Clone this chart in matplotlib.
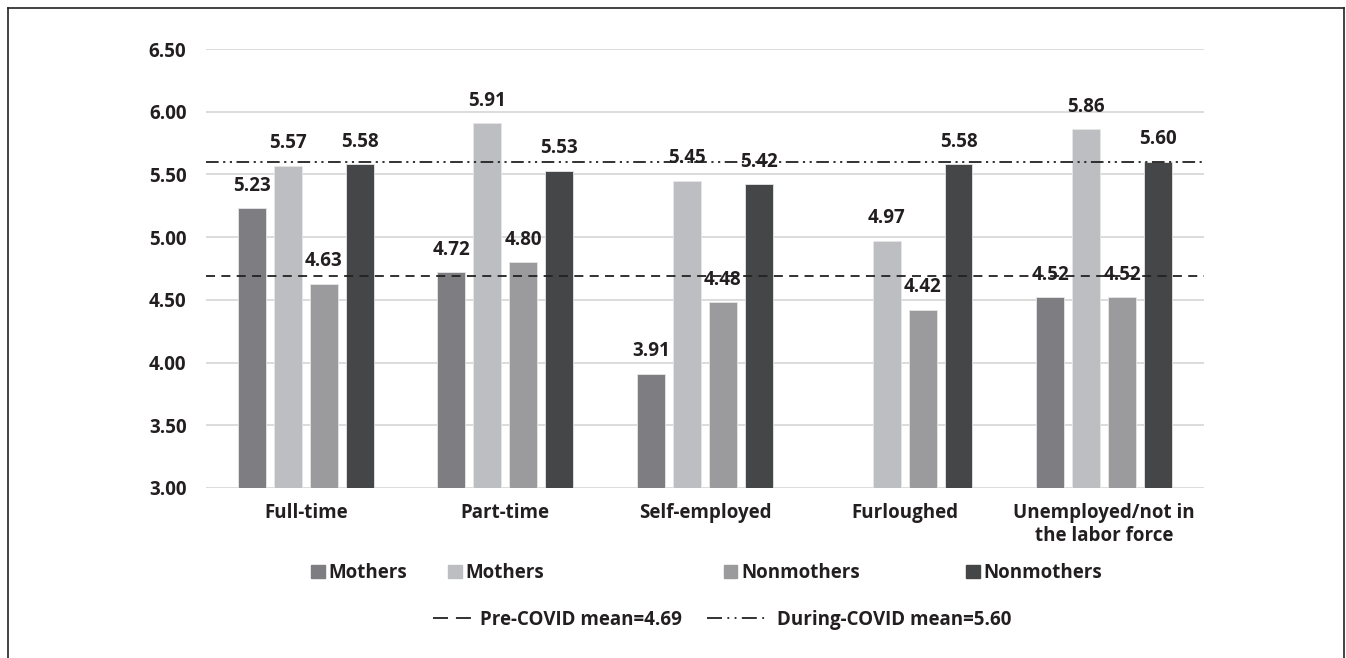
import matplotlib.pyplot as plt
import numpy as np
from matplotlib.lines import Line2D
from matplotlib.patches import Patch

# data
categories = ["Full-time", "Part-time", "Self-employed", "Furloughed",
              "Unemployed/not in\nthe labor force"]
series_names = ["Mothers", "Mothers", "Nonmothers", "Nonmothers"]
mothers_pre = [5.23, 4.72, 3.91, np.nan, 4.52]
mothers_during = [5.57, 5.91, 5.45, 4.97, 5.86]
nonmothers_pre = [4.63, 4.80, 4.48, 4.42, 4.52]
nonmothers_during = [5.58, 5.53, 5.42, 5.58, 5.60]
pre_mean = 4.69
during_mean = 5.60
yticks = [3.00, 3.50, 4.00, 4.50, 5.00, 5.50, 6.00, 6.50]

colors = ["#7e7e82", "#bdbec1", "#9b9b9e", "#454648"]
txt = "#231f20"
fs = 13.5
plt.rcParams['font.family'] = ['Open Sans', 'DejaVu Sans']
plt.rcParams['font.weight'] = 'bold'

fig = plt.figure(figsize=(13.46, 6.58), dpi=100)
ax = fig.add_axes([0.153, 0.2584, 0.7415, 0.6671])

x = np.arange(len(categories))
all_series = [mothers_pre, mothers_during, nonmothers_pre, nonmothers_during]
w = 0.14
step = 0.18
for i, vals in enumerate(all_series):
    pos = x + (i - 1.5) * step
    bars = ax.bar(pos, np.array(vals) - 3.0, bottom=3.0, width=w,
                  color=colors[i], edgecolor="#e6e6e6", linewidth=0.6, zorder=3)
    labels = ["" if np.isnan(v) else f"{v:.2f}" for v in vals]
    ax.bar_label(bars, labels=labels, padding=9, fontsize=fs,
                 fontweight='bold', color=txt)

dash_pre = (5, 3.5)
dash_during = (7, 2.5, 1.2, 2.5, 1.2, 2.5)
ax.axhline(pre_mean, color="#222222", lw=1.3, dashes=dash_pre, zorder=4)
ax.axhline(during_mean, color="#222222", lw=1.3, dashes=dash_during, zorder=4)

ax.set_xlim(-0.5, len(categories) - 0.5)
ax.set_ylim(3.0, 6.5)
ax.set_yticks(yticks)
ax.set_yticklabels([f"{t:.2f}" for t in yticks], fontsize=fs,
                   fontweight='bold', color=txt)
ax.set_xticks(x)
ax.set_xticklabels(categories, fontsize=fs, fontweight='bold', color=txt,
                   linespacing=1.15, va='top')
ax.tick_params(axis='y', length=0, pad=14)
ax.tick_params(axis='x', length=0, pad=11)
ax.grid(axis='y', color="#d9d9d9", lw=1.3, zorder=0)
for s in ax.spines.values():
    s.set_visible(False)

# first legend row, one entry at a time
leg_x = [0.2244, 0.3262, 0.5312, 0.7110]
for i in range(4):
    fig.legend(handles=[Patch(color=colors[i])], labels=[series_names[i]],
               loc='center left', bbox_to_anchor=(leg_x[i], 1 - 573 / 658),
               frameon=False, fontsize=fs, handlelength=0.7,
               handleheight=0.7, handletextpad=0.2, borderpad=0,
               labelcolor=txt)

# second row: the mean lines, handles drawn like the original legend
fig.legend(handles=[Line2D([], [], color="#222222", lw=1.3, dashes=(8.3, 4.4))],
           labels=[f"Pre-COVID mean={pre_mean:.2f}"],
           loc='center left', bbox_to_anchor=(0.315, 1 - 620 / 658),
           frameon=False, fontsize=fs, handlelength=2.1, handletextpad=0.4,
           borderpad=0, labelcolor=txt)
fig.legend(handles=[Line2D([], [], color="#222222", lw=1.3,
                           dashes=(8.3, 3, 1, 3, 1, 3))],
           labels=[f"During-COVID mean={during_mean:.2f}"],
           loc='center left', bbox_to_anchor=(0.5186, 1 - 620 / 658),
           frameon=False, fontsize=fs, handlelength=3.3, handletextpad=0.4,
           borderpad=0, labelcolor=txt)

# outer frame (bottom edge is cut off in the original)
fx0, fx1, fy1 = 8 / 1346, 1344 / 1346, 1 - 8 / 658
for xs, ys in [([fx0, fx0], [0, fy1]), ([fx0, fx1], [fy1, fy1]),
               ([fx1, fx1], [fy1, 0])]:
    fig.add_artist(Line2D(xs, ys, color="#222222", lw=1.2,
                          transform=fig.transFigure))

fig.savefig("out.png", dpi=100)
